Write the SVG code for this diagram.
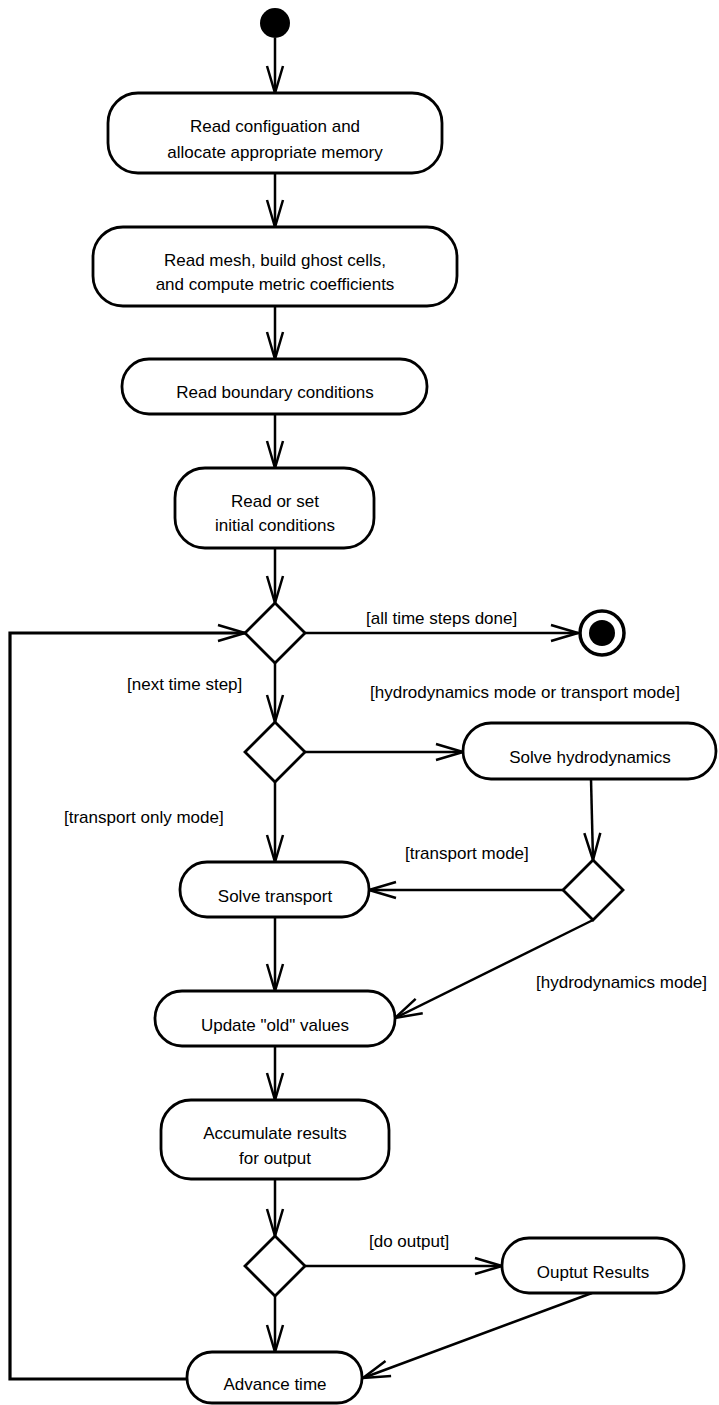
<svg xmlns="http://www.w3.org/2000/svg" width="719" height="1405" viewBox="0 0 719 1405">
<style>
.node rect{fill:#fff;stroke:#000;stroke-width:2.8}
.node polygon{fill:#fff;stroke:#000;stroke-width:2.8}
text{font-family:"Liberation Sans",Arial,Helvetica,sans-serif;font-size:17px;fill:#000}
.c{text-anchor:middle}
#connectors line,#connectors polyline{stroke:#000;stroke-width:2.5;fill:none}
</style>
<defs>
<marker id="arr" viewBox="0 0 30 20" markerWidth="30" markerHeight="20" refX="28" refY="10" orient="auto" markerUnits="userSpaceOnUse">
<path d="M1,2 L28,10 L1,18" fill="none" stroke="#000" stroke-width="2.5"/>
</marker>
</defs>
<rect width="719" height="1405" fill="#fff"/>

<g id="connectors">
<line x1="275" y1="38" x2="275" y2="93" marker-end="url(#arr)"/>
<line x1="275" y1="173" x2="275" y2="227" marker-end="url(#arr)"/>
<line x1="275" y1="306" x2="275" y2="359" marker-end="url(#arr)"/>
<line x1="275" y1="414" x2="275" y2="468" marker-end="url(#arr)"/>
<line x1="275" y1="548" x2="275" y2="603" marker-end="url(#arr)"/>
<line x1="305" y1="633" x2="578" y2="633" marker-end="url(#arr)"/>
<line x1="275" y1="663" x2="275" y2="722" marker-end="url(#arr)"/>
<line x1="305" y1="752" x2="463" y2="752" marker-end="url(#arr)"/>
<line x1="591" y1="779" x2="593" y2="860" marker-end="url(#arr)"/>
<line x1="563" y1="890" x2="369" y2="890" marker-end="url(#arr)"/>
<line x1="275" y1="782" x2="275" y2="862" marker-end="url(#arr)"/>
<line x1="275" y1="917" x2="275" y2="991" marker-end="url(#arr)"/>
<line x1="593" y1="920" x2="395" y2="1018" marker-end="url(#arr)"/>
<line x1="275" y1="1046" x2="275" y2="1100" marker-end="url(#arr)"/>
<line x1="275" y1="1179" x2="275" y2="1236" marker-end="url(#arr)"/>
<line x1="305" y1="1266" x2="502" y2="1266" marker-end="url(#arr)"/>
<line x1="275" y1="1296" x2="275" y2="1352" marker-end="url(#arr)"/>
<line x1="592" y1="1293" x2="363" y2="1378" marker-end="url(#arr)"/>
<polyline points="187,1379 10,1379 10,633 245,633" style="stroke-width:3.2" marker-end="url(#arr)"/>
</g>

<g id="start"><circle cx="275" cy="23" r="15" fill="#000"/></g>

<g id="n1" class="node"><rect x="108" y="93" width="334" height="80" rx="30"/>
<text class="c" x="275" y="132">Read configuation and</text>
<text class="c" x="275" y="158">allocate appropriate memory</text></g>

<g id="n2" class="node"><rect x="93" y="227" width="364" height="79" rx="30"/>
<text class="c" x="275" y="266">Read mesh, build ghost cells,</text>
<text class="c" x="275" y="290">and compute metric coefficients</text></g>

<g id="n3" class="node"><rect x="122" y="359" width="305" height="55" rx="27"/>
<text class="c" x="275" y="398">Read boundary conditions</text></g>

<g id="n4" class="node"><rect x="175" y="468" width="199" height="80" rx="30"/>
<text class="c" x="275" y="507">Read or set</text>
<text class="c" x="275" y="531">initial conditions</text></g>

<g id="d1" class="node"><polygon points="275,603 305,633 275,663 245,633"/></g>

<g id="final"><circle cx="602" cy="633" r="22" fill="#fff" stroke="#000" stroke-width="3.5"/><circle cx="602" cy="633" r="13" fill="#000"/></g>

<g id="d2" class="node"><polygon points="275,722 305,752 275,782 245,752"/></g>

<g id="n5" class="node"><rect x="463" y="723" width="253" height="56" rx="28"/>
<text class="c" x="590" y="763">Solve hydrodynamics</text></g>

<g id="d3" class="node"><polygon points="593,860 623,890 593,920 563,890"/></g>

<g id="n6" class="node"><rect x="180" y="862" width="189" height="55" rx="27"/>
<text class="c" x="275" y="902">Solve transport</text></g>

<g id="n7" class="node"><rect x="155" y="991" width="240" height="55" rx="27"/>
<text class="c" x="275" y="1031">Update "old" values</text></g>

<g id="n8" class="node"><rect x="161" y="1100" width="228" height="79" rx="30"/>
<text class="c" x="275" y="1139">Accumulate results</text>
<text class="c" x="275" y="1164">for output</text></g>

<g id="d4" class="node"><polygon points="275,1236 305,1266 275,1296 245,1266"/></g>

<g id="n9" class="node"><rect x="502" y="1238" width="182" height="55" rx="27"/>
<text class="c" x="593" y="1278">Ouptut Results</text></g>

<g id="n10" class="node"><rect x="187" y="1352" width="175" height="51" rx="25"/>
<text class="c" x="275" y="1390">Advance time</text></g>

<g id="labels">
<text x="366" y="624">[all time steps done]</text>
<text x="127" y="690">[next time step]</text>
<text x="370" y="698">[hydrodynamics mode or transport mode]</text>
<text x="64" y="823">[transport only mode]</text>
<text x="405" y="859">[transport mode]</text>
<text x="536" y="988">[hydrodynamics mode]</text>
<text x="369" y="1247">[do output]</text>
</g>
</svg>
